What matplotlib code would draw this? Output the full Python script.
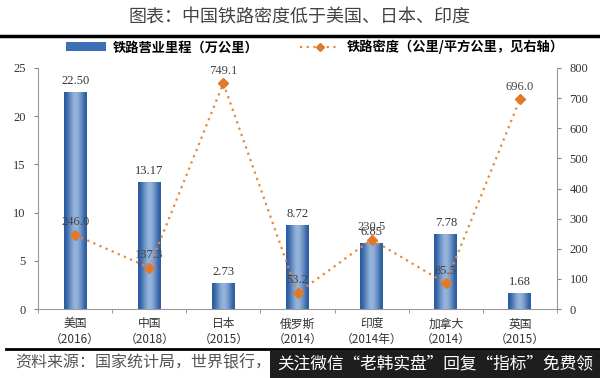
import numpy as np
import matplotlib
matplotlib.use("Agg")
import matplotlib.pyplot as plt
from matplotlib.patches import Patch, Rectangle
from matplotlib.lines import Line2D

plt.rcParams['font.family'] = ['Noto Sans CJK SC', 'DejaVu Sans']

countries = ["美国", "中国", "日本", "俄罗斯", "印度", "加拿大", "英国"]
years = ["（2016）", "（2018）", "（2015）", "（2014）", "（2014年）", "（2014）", "（2015）"]
length = [22.50, 13.17, 2.73, 8.72, 6.85, 7.78, 1.68]      # 万公里
density = [246.0, 137.3, 749.1, 53.2, 230.5, 85.5, 696.0]  # 公里/万平方公里

serif = "Liberation Serif"
x = np.arange(len(countries))

fig = plt.figure(figsize=(6, 3.78), dpi=100)
ax = fig.add_axes([38/600, 1-309/378, (557-38)/600, (309-68)/378])
ax2 = ax.twinx()

# bars with a horizontal gradient
bars = ax.bar(x, length, width=0.31, color="#3C6FB4", zorder=2)
grad = np.array([[0.0, 0.35, 0.75, 1.0, 0.8, 0.45, 0.0]])
cmap = matplotlib.colors.LinearSegmentedColormap.from_list("b", ["#2A5BA0", "#9DBBE0"])
for b in bars:
    bx, by, bw, bh = b.get_x(), b.get_y(), b.get_width(), b.get_height()
    im = ax.imshow(grad, cmap=cmap, aspect="auto", extent=[bx, bx+bw, by, by+bh],
                   interpolation="bicubic", zorder=3)
    im.set_clip_path(b)
for xi, v in zip(x, length):
    ax.text(xi, v + 0.5, f"{v:.2f}", ha="center", va="bottom", fontsize=9,
            family=serif, color="#333333", zorder=5)

ax2.plot(x, density, linestyle=(0, (1, 2)), color="#E3893A", lw=1.6,
         marker="D", ms=5, mfc="#E07A2A", mec="#E07A2A", zorder=4)
for xi, v in zip(x, density):
    ax2.text(xi, v + 22, f"{v:.1f}", ha="center", va="bottom", fontsize=9,
             family=serif, color="#444444", zorder=5)

ax.set_xlim(-0.5, len(x) - 0.5)
ax.set_ylim(0, 25)
ax2.set_ylim(0, 800)
ax.set_yticks(range(0, 26, 5))
ax2.set_yticks(range(0, 801, 100))
ax.set_xticks(x)
ax.set_xticklabels([f"{c}\n{y}" for c, y in zip(countries, years)], fontsize=8.5,
                   color="#333333", linespacing=1.3)
ax.set_xticks(np.arange(-0.5, len(x), 1), minor=True)
ax.tick_params(axis="x", which="major", length=0, pad=6)
ax.tick_params(axis="x", which="minor", length=3, color="#888888")
ax.tick_params(axis="y", length=3, color="#888888", labelsize=9, pad=6)
ax2.tick_params(axis="y", length=3, color="#888888", labelsize=9, pad=6)
for a in (ax, ax2):
    for lab in a.get_yticklabels():
        lab.set_family(serif)
        lab.set_color("#333333")
    a.spines["top"].set_visible(False)
    for s in ("left", "right", "bottom"):
        a.spines[s].set_color("#999999")
ax.spines["right"].set_visible(False)
ax2.spines["left"].set_visible(False)
ax2.spines["bottom"].set_visible(False)

# title and rule
fig.text(0.5, 1-18/378, "图表：中国铁路密度低于美国、日本、印度", ha="center", va="center",
         fontsize=13, color="#444444")
fig.add_artist(Line2D([0, 1], [1-36/378, 1-36/378], color="black", lw=2.5))

handles = [Patch(facecolor="#3C6FB4"),
           Line2D([0], [0], linestyle=(0, (1, 2)), color="#E3893A", lw=1.6,
                  marker="D", ms=4, mfc="#E07A2A", mec="#E07A2A")]
fig.legend(handles, ["铁路营业里程（万公里）", "铁路密度（公里/平方公里，见右轴）"],
           loc="center", bbox_to_anchor=(0.525, 1-47/378), ncol=2, frameon=False,
           prop={"size": 9.5, "weight": "bold"}, handlelength=3.0, handleheight=0.6,
           columnspacing=3.2, handletextpad=0.5)

# footer
fig.add_artist(Line2D([0.01, 1], [1-349/378, 1-349/378], color="black", lw=2))
fig.text(0.025, 1-363/378, "资料来源：国家统计局，世界银行，", ha="left", va="center",
         fontsize=11.5, color="#555555", style="italic")
fig.add_artist(Rectangle((270/600, 0), 330/600, 1-351/378, transform=fig.transFigure,
                         facecolor="#1E1E1E", edgecolor="none"))
fig.text(277/600, 1-365/378, "关注微信\u201c老韩实盘\u201d回复\u201c指标\u201d免费领", ha="left", va="center",
         fontsize=12, color="white")

fig.savefig("out.png", dpi=100)
